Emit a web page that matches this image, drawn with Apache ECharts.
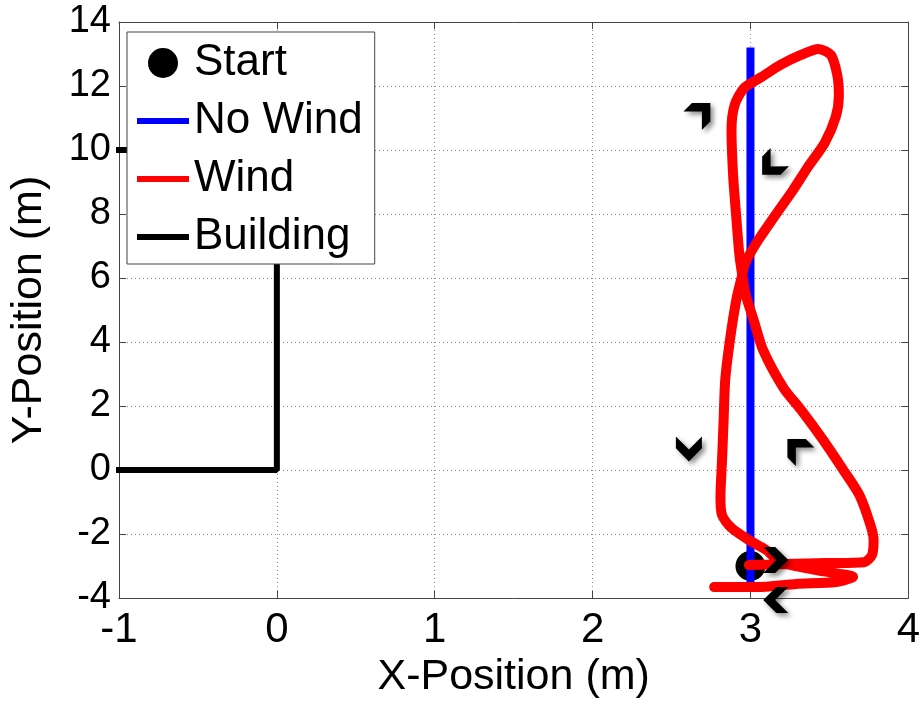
<!DOCTYPE html>
<html>
<head>
<meta charset="utf-8">
<script src="https://cdn.jsdelivr.net/npm/echarts@6/dist/echarts.min.js"></script>
<style>html,body{margin:0;padding:0;background:#fff;}#c{width:923px;height:709px;}</style>
</head>
<body>
<div id="c"></div>
<script>
// ---- data ----
var xTicks = [-1, 0, 1, 2, 3, 4];
var yTicks = [-4, -2, 0, 2, 4, 6, 8, 10, 12, 14];
var startPoint = [[3, -3]];
var noWindX = [3, 3];
var noWindY = [-3.5, 13.2];
var windX = [2.99, 3.23, 3.48, 3.72, 3.77, 3.78, 3.76, 3.69, 3.58, 3.46, 3.32, 3.21, 3.08, 3.02, 2.97, 2.95, 2.93, 2.91, 2.89, 2.88, 2.90, 2.96, 3.07, 3.19, 3.32, 3.43, 3.51, 3.55, 3.56, 3.54, 3.47, 3.36, 3.27, 3.15, 3.05, 2.97, 2.94, 2.91, 2.87, 2.84, 2.83, 2.82, 2.81, 2.82, 2.88, 2.99, 3.10, 3.19, 3.42, 3.65, 3.54, 3.29, 3.04, 2.77];
var windY = [-2.97, -2.94, -2.91, -2.88, -2.66, -2.19, -1.72, -0.78, 0.06, 0.94, 1.88, 2.56, 3.75, 4.69, 5.47, 6.03, 6.72, 7.91, 9.22, 10.63, 11.41, 11.94, 12.28, 12.66, 12.97, 13.16, 12.97, 12.34, 11.72, 11.03, 10.22, 9.44, 8.75, 7.91, 7.19, 6.5, 5.94, 5.31, 4.06, 2.81, 1.56, 0.31, -0.84, -1.41, -1.81, -2.19, -2.5, -2.88, -3.13, -3.34, -3.5, -3.56, -3.66, -3.66];
var buildingX = [-1, 0, 0, -1];
var buildingY = [0, 0, 10, 10];
var arrowX = [2.69, 3.13, 2.61, 3.29, 3.16, 3.16];
var arrowY = [11.19, 9.5, 0.66, 0.69, -2.81, -4.06];
var arrowAngle = [45, 225, 270, 135, 0, 180];
var legendNames = ['Start', 'No Wind', 'Wind', 'Building'];

function zip(a, b) { return a.map(function (v, i) { return [v, b[i]]; }); }

var chart = echarts.init(document.getElementById('c'), null, {renderer: 'canvas'});
var FONT = "'Liberation Sans', Arial, Helvetica, sans-serif";
var lineIcon = 'path://M0,0 M0,12 L52,12 L52,18 L0,18 Z M52,30';
var chevron = 'path://M0,0 L11,0 L23,12 L11,24 L0,24 L12,12 Z';

var axisCommon = {
  type: 'value',
  axisLine: {show: true, onZero: false, lineStyle: {color: '#444', width: 1}},
  axisTick: {show: true, inside: true, length: 7, lineStyle: {color: '#444'}}
};

var option = {
  backgroundColor: '#fff',
  animation: false,
  grid: {left: 118, right: 10, top: 22, bottom: 111, show: false},
  xAxis: [
    Object.assign({}, axisCommon, {
      position: 'bottom', min: xTicks[0], max: xTicks[xTicks.length - 1], interval: 1,
      axisLabel: {color: '#000', fontSize: 42, fontFamily: FONT, margin: 11},
      splitLine: {show: true, lineStyle: {color: '#888', type: [1, 3], width: 1}},
      name: 'X-Position (m)', nameLocation: 'middle', nameGap: 46,
      nameTextStyle: {color: '#000', fontSize: 43, fontFamily: FONT}
    }),
    Object.assign({}, axisCommon, {
      position: 'top', min: xTicks[0], max: xTicks[xTicks.length - 1], interval: 1,
      axisLabel: {show: false}, splitLine: {show: false}
    })
  ],
  yAxis: [
    Object.assign({}, axisCommon, {
      position: 'left', min: yTicks[0], max: yTicks[yTicks.length - 1], interval: 2,
      axisLabel: {color: '#000', fontSize: 38, fontFamily: FONT, margin: 8},
      splitLine: {show: true, lineStyle: {color: '#888', type: [1, 3], width: 1}},
      name: 'Y-Position (m)', nameLocation: 'middle', nameGap: 68,
      nameTextStyle: {color: '#000', fontSize: 43, fontFamily: FONT}
    }),
    Object.assign({}, axisCommon, {
      position: 'right', min: yTicks[0], max: yTicks[yTicks.length - 1], interval: 2,
      axisLabel: {show: false}, splitLine: {show: false}
    })
  ],
  legend: {
    show: true,
    left: 127, top: 32,
    orient: 'vertical',
    backgroundColor: '#fff',
    borderColor: '#444', borderWidth: 1,
    padding: [9, 12, 5, 10],
    itemWidth: 52, itemHeight: 30, itemGap: 14,
    selectedMode: false,
    textStyle: {color: '#000', fontSize: 44, fontFamily: FONT, lineHeight: 43},
    itemStyle: {borderWidth: 0, opacity: 1},
    data: [
      {name: legendNames[0], icon: 'circle'},
      {name: legendNames[1], icon: lineIcon},
      {name: legendNames[2], icon: lineIcon},
      {name: legendNames[3], icon: lineIcon}
    ]
  },
  series: [
    {
      name: legendNames[0], type: 'scatter', data: startPoint,
      symbol: 'circle', symbolSize: 30, itemStyle: {color: '#000', opacity: 1}, z: 2
    },
    {
      name: legendNames[1], type: 'line', data: zip(noWindX, noWindY),
      showSymbol: false, symbol: 'none', lineStyle: {color: '#0000ff', width: 8}, itemStyle: {color: '#0000ff'}, z: 3
    },
    {
      name: legendNames[2], type: 'line', data: zip(windX, windY),
      showSymbol: false, symbol: 'none', smooth: 0.25,
      lineStyle: {color: '#ff0000', width: 10, cap: 'round', join: 'round'}, itemStyle: {color: '#ff0000'}, z: 4
    },
    {
      name: legendNames[3], type: 'line', data: zip(buildingX, buildingY),
      showSymbol: false, symbol: 'none', clip: false,
      lineStyle: {color: '#000', width: 6, cap: 'square'}, itemStyle: {color: '#000'}, z: 3
    },
    {
      name: 'arrows', type: 'scatter', clip: false, z: 5,
      data: arrowX.map(function (x, i) { return [x, arrowY[i], arrowAngle[i]]; }),
      symbol: chevron, symbolSize: [25, 26],
      symbolRotate: function (v) { return v[2]; },
      itemStyle: {color: '#000', opacity: 1, shadowBlur: 5, shadowColor: 'rgba(0,0,0,0.45)', shadowOffsetX: 3, shadowOffsetY: 3}
    }
  ]
};
chart.setOption(option);
</script>
</body>
</html>
